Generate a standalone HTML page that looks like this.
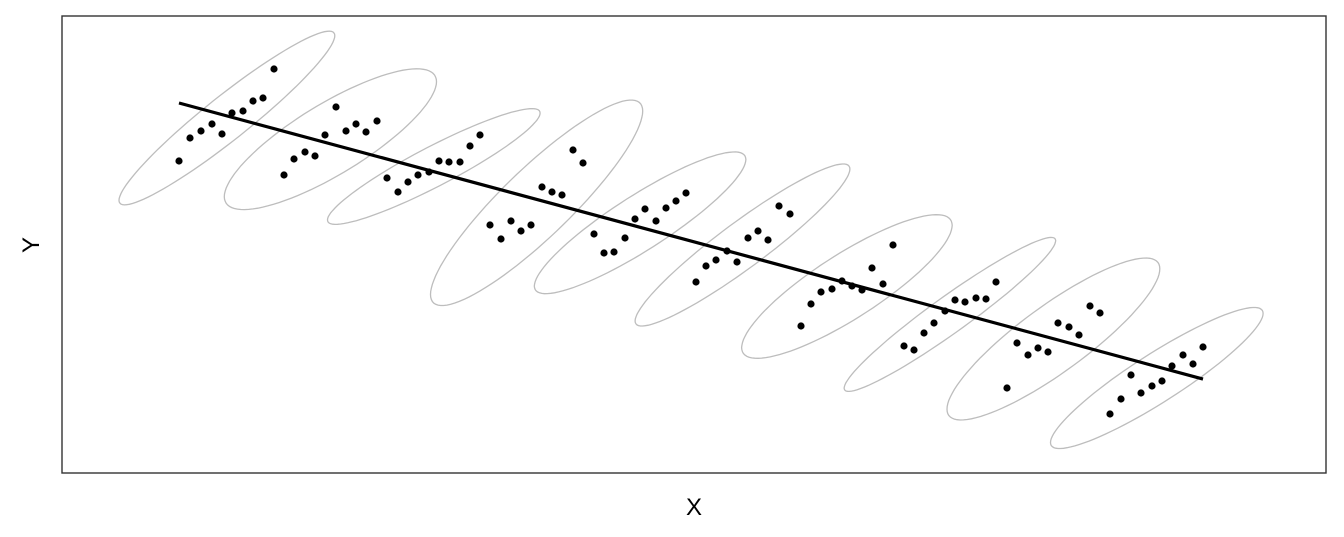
<!DOCTYPE html>
<html><head><meta charset="utf-8"><style>
html,body{margin:0;padding:0;background:#fff;}
svg{display:block;font-family:"Liberation Sans",sans-serif;}
</style></head><body>
<svg id="chart" width="1344" height="537" viewBox="0 0 1344 537" xmlns="http://www.w3.org/2000/svg">
<rect x="62" y="16" width="1264" height="457" fill="#fff" stroke="#333" stroke-width="1.4"/>
<g id="ellipses"></g>
<g id="points"></g>
<g id="trend"></g>
<text x="694" y="515" font-size="24" text-anchor="middle" fill="#000">X</text>
<text x="0" y="0" font-size="24" text-anchor="middle" fill="#000" transform="translate(39,245) rotate(-90)">Y</text>
</svg>
<script>
const groupX = [
[11.7,12.8,13.9,15.0,16.0,17.0,18.1,19.1,20.1,21.2],
[22.2,23.2,24.3,25.3,26.3,27.4,28.4,29.4,30.4,31.5],
[32.5,33.6,34.6,35.6,36.7,37.7,38.7,39.8,40.8,41.8],
[42.8,43.9,44.9,45.9,46.9,48.0,49.0,50.0,51.1,52.1],
[53.2,54.2,55.2,56.3,57.3,58.3,59.4,60.4,61.4,62.4],
[63.4,64.4,65.4,66.5,67.5,68.6,69.6,70.6,71.7,72.8],
[73.9,74.9,75.9,77.0,78.0,79.0,80.0,81.0,82.1,83.1],
[84.2,85.2,86.2,87.2,88.3,89.3,90.3,91.4,92.4,93.4],
[94.5,95.5,96.6,97.6,98.6,99.6,100.7,101.7,102.8,103.8],
[104.8,105.9,106.9,107.9,109.0,110.0,111.0,112.1,113.1,114.1]
];
const groupY = [
[31.2,33.5,34.2,34.9,33.9,36.0,36.2,37.2,37.5,40.4],
[29.8,31.4,32.1,31.7,33.8,36.6,34.2,34.9,34.1,35.2],
[29.5,28.1,29.1,29.8,30.1,31.2,31.1,31.1,32.7,33.8],
[24.8,23.4,25.2,24.2,24.8,28.6,28.1,27.8,32.3,31.0],
[23.9,22.0,22.1,23.5,25.4,26.4,25.2,26.5,27.2,28.0],
[19.1,20.7,21.3,22.2,21.1,23.5,24.2,23.3,26.7,25.9],
[14.7,16.9,18.1,18.4,19.2,18.7,18.3,20.5,18.9,22.8],
[12.7,12.3,14.0,15.0,16.2,17.3,17.1,17.5,17.4,19.1],
[8.5,13.0,11.8,12.5,12.1,15.0,14.6,13.8,16.7,16.0],
[5.9,7.4,9.8,8.0,8.7,9.2,10.7,11.8,10.9,12.6]
];
const xDomain = [0, 126.4];
const yDomain = [0, 45.7];
const X0=62, X1=1326, Y0=473, Y1=16;
function sx(v){return X0+(v-xDomain[0])/(xDomain[1]-xDomain[0])*(X1-X0);}
function sy(v){return Y0-(v-yDomain[0])/(yDomain[1]-yDomain[0])*(Y0-Y1);}
const NS='http://www.w3.org/2000/svg';
const eg=document.getElementById('ellipses'), pg=document.getElementById('points'), tg=document.getElementById('trend');
let allX=[], allY=[];
groupX.forEach((xs,gi)=>{
  const ys=groupY[gi], n=xs.length;
  const mx=xs.reduce((a,b)=>a+b)/n, my=ys.reduce((a,b)=>a+b)/n;
  let cxx=0,cyy=0,cxy=0;
  for(let i=0;i<n;i++){cxx+=(xs[i]-mx)**2;cyy+=(ys[i]-my)**2;cxy+=(xs[i]-mx)*(ys[i]-my);}
  cxx/=n-1;cyy/=n-1;cxy/=n-1;
  const a=Math.sqrt(cxx), b=cxy/a, c=Math.sqrt(Math.max(cyy-b*b,1e-9));
  const r=3.4;
  let d='';
  for(let k=0;k<=100;k++){
    const t=k/100*2*Math.PI, u=Math.cos(t), v=Math.sin(t);
    const ex=mx+r*a*u, ey=my+r*(b*u+c*v);
    d+=(k?'L':'M')+sx(ex).toFixed(1)+','+sy(ey).toFixed(1);
  }
  const p=document.createElementNS(NS,'path');
  p.setAttribute('d',d+'Z');p.setAttribute('fill','none');p.setAttribute('stroke','#bdbdbd');p.setAttribute('stroke-width','1.3');
  
  
  eg.appendChild(p);
  for(let i=0;i<n;i++){
    const ci=document.createElementNS(NS,'circle');
    ci.setAttribute('cx',sx(xs[i]));ci.setAttribute('cy',sy(ys[i]));ci.setAttribute('r','3.6');ci.setAttribute('fill','#000');
    
    
    pg.appendChild(ci);
    allX.push(xs[i]);allY.push(ys[i]);
  }
});
const N=allX.length, MX=allX.reduce((a,b)=>a+b)/N, MY=allY.reduce((a,b)=>a+b)/N;
let sxy=0,sxx=0;for(let i=0;i<N;i++){sxy+=(allX[i]-MX)*(allY[i]-MY);sxx+=(allX[i]-MX)**2;}
const slope=sxy/sxx, icp=MY-slope*MX;
const xmin=Math.min(...allX), xmax=Math.max(...allX);
const ln=document.createElementNS(NS,'line');
ln.setAttribute('x1',sx(xmin));ln.setAttribute('y1',sy(icp+slope*xmin));
ln.setAttribute('x2',sx(xmax));ln.setAttribute('y2',sy(icp+slope*xmax));
ln.setAttribute('stroke','#000');ln.setAttribute('stroke-width','3.2');


tg.appendChild(ln);
</script>
</body></html>
